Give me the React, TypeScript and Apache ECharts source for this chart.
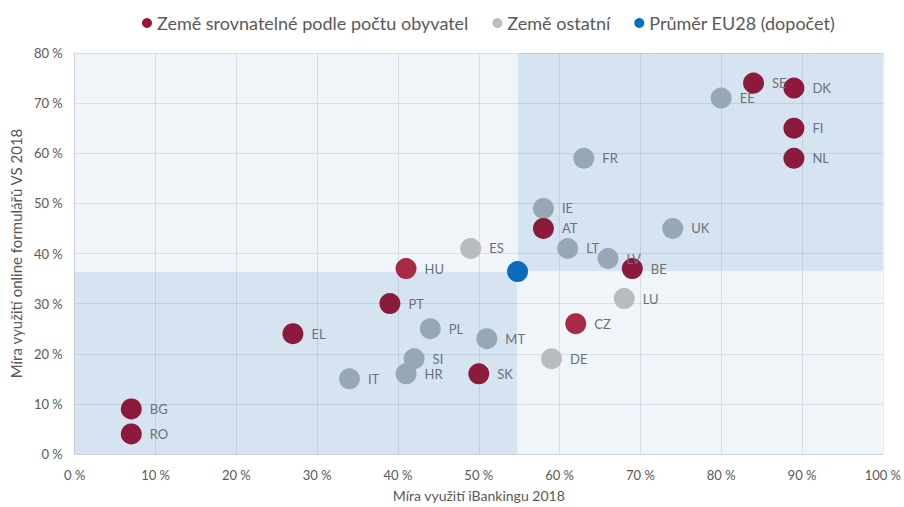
import React, { useEffect, useRef } from "react";
import * as echarts from "echarts";

const redName = "Země srovnatelné podle počtu obyvatel";
const grayName = "Země ostatní";
const blueName = "Průměr EU28 (dopočet)";

const redCountries = ["SE", "DK", "FI", "NL", "AT", "BE", "HU", "PT", "CZ", "EL", "SK", "BG", "RO"];
const redX = [84, 89, 89, 89, 58, 69, 41, 39, 62, 27, 50, 7, 7];
const redY = [74, 73, 65, 59, 45, 37, 37, 30, 26, 24, 16, 9, 4];

const grayCountries = ["EE", "FR", "IE", "UK", "ES", "LT", "LV", "LU", "PL", "MT", "SI", "DE", "HR", "IT"];
const grayX = [80, 63, 58, 74, 49, 61, 66, 68, 44, 51, 42, 59, 41, 34];
const grayY = [71, 59, 49, 45, 41, 41, 39, 31, 25, 23, 19, 19, 16, 15];

const euX = 54.8;
const euY = 36.4;

const xMin = 0;
const xMax = 100;
const yMin = 0;
const yMax = 80;
const tickStep = 10;

// quadrant rectangles: [x0, y0, x1, y1]
const quadrants = [
  [xMin, yMin, euX, euY],
  [euX, euY, xMax, yMax],
  [xMin, euY, euX, yMax],
  [euX, yMin, xMax, euY],
];

const FONT = "Lato, 'Open Sans', sans-serif";

const isDark = (x: number, y: number) => (x < euX) === (y < euY);

const COLORS = {
  red: { legend: "#961638", dark: "#8c1a3c", light: "#a82a47" },
  gray: { legend: "#bcbdc0", dark: "#98a7b6", light: "#b8bbc0" },
  blue: { legend: "#0070c0", dark: "#0a6cbc", light: "#1a7ccc" },
};

export default function App() {
  const ref = useRef<HTMLDivElement>(null);
  useEffect(() => {
    if (!ref.current) return;
    const chart = echarts.init(ref.current, null, { renderer: "svg" });
    const label = {
      show: true,
      position: "right" as const,
      distance: 8,
      formatter: (p: any) => p.data.value[2],
      color: "#6b7079",
      fontSize: 13,
      fontFamily: FONT,
    };
    const points = (names: string[], xs: number[], ys: number[], pal: { dark: string; light: string }) =>
      names.map((c, i) => ({
        value: [xs[i], ys[i], c],
        itemStyle: { color: isDark(xs[i], ys[i]) ? pal.dark : pal.light },
      }));
    const axisCommon = {
      type: "value",
      interval: tickStep,
      nameLocation: "middle",
      z: 1,
      axisLine: { show: true, lineStyle: { color: "rgba(40,70,110,0.13)" } },
      axisTick: { show: false },
      splitLine: { show: true, lineStyle: { color: "rgba(40,70,110,0.12)" } },
    };
    chart.setOption({
      animation: false,
      backgroundColor: "#ffffff",
      textStyle: { fontFamily: FONT },
      legend: {
        data: [redName, grayName, blueName],
        top: 9,
        left: 137,
        icon: "circle",
        itemWidth: 10,
        itemHeight: 10,
        itemGap: 24,
        textStyle: { color: "#595959", fontSize: 18, fontFamily: FONT },
      },
      grid: { left: 73, right: 16, top: 53, bottom: 48 },
      xAxis: {
        ...axisCommon,
        min: xMin,
        max: xMax,
        name: "Míra využití iBankingu 2018",
        nameGap: 34,
        nameTextStyle: { color: "#595959", fontSize: 14, fontFamily: FONT },
        axisLabel: { formatter: "{value} %", color: "#595959", fontSize: 13, margin: 14, fontFamily: FONT },
      },
      yAxis: {
        ...axisCommon,
        min: yMin,
        max: yMax,
        name: "Míra využití online formulářů VS 2018",
        nameGap: 48,
        nameTextStyle: { color: "#595959", fontSize: 15, fontFamily: FONT },
        axisLabel: { formatter: "{value} %", color: "#595959", fontSize: 13, margin: 12, fontFamily: FONT },
      },
      series: [
        {
          type: "custom",
          z: 0,
          silent: true,
          data: quadrants,
          encode: { x: [0, 2], y: [1, 3] },
          renderItem: (params: any, api: any) => {
            const x0 = api.value(0);
            const y0 = api.value(1);
            const a = api.coord([x0, y0]);
            const b = api.coord([api.value(2), api.value(3)]);
            const dark = isDark(x0 + 0.01, y0 + 0.01);
            return {
              type: "rect",
              shape: {
                x: Math.min(a[0], b[0]),
                y: Math.min(a[1], b[1]),
                width: Math.abs(b[0] - a[0]),
                height: Math.abs(b[1] - a[1]),
              },
              style: { fill: dark ? "rgb(214,227,240)" : "rgb(240,245,250)" },
            };
          },
        },
        {
          name: grayName,
          type: "scatter",
          symbolSize: 21,
          z: 2,
          itemStyle: { color: COLORS.gray.legend, opacity: 1 },
          label,
          data: points(grayCountries, grayX, grayY, COLORS.gray),
        },
        {
          name: redName,
          type: "scatter",
          symbolSize: 21,
          z: 2,
          itemStyle: { color: COLORS.red.legend, opacity: 1 },
          label,
          data: points(redCountries, redX, redY, COLORS.red),
        },
        {
          name: blueName,
          type: "scatter",
          symbolSize: 21,
          z: 2,
          itemStyle: { color: COLORS.blue.legend, opacity: 1 },
          data: [{ value: [euX, euY], itemStyle: { color: COLORS.blue.dark } }],
        },
      ],
    });
    return () => chart.dispose();
  }, []);
  return (
    <div
      ref={ref}
      style={{ position: "fixed", left: 0, top: 0, width: 904, height: 507, background: "#fff" }}
    />
  );
}
